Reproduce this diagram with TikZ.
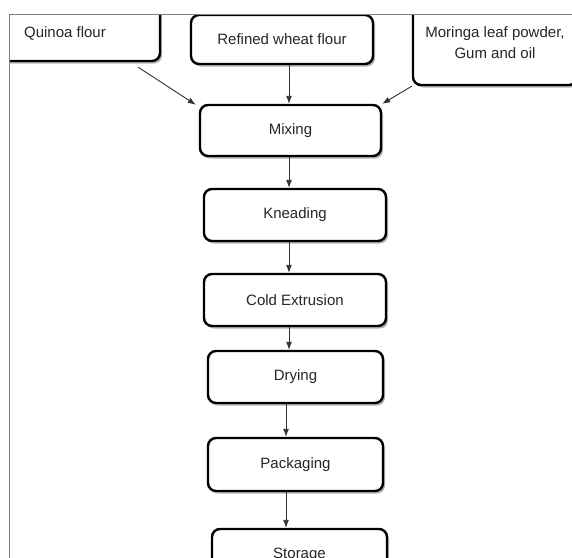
\documentclass[tikz,border=0pt]{standalone}
\usepackage{fontspec}
\setmainfont{Liberation Sans}
\usepackage{tikz}
\usetikzlibrary{arrows.meta,shadows}

\tikzset{
  stage/.style={draw=black, line width=2.4pt, rounded corners=8pt, fill=white,
    inner sep=0pt, text=black!85, font=\fontsize{15}{21}\selectfont,
    drop shadow={shadow xshift=2pt, shadow yshift=-2.5pt, opacity=0.3, fill=black}},
  flow/.style={draw=black!80, line width=0.9pt, -{Latex[length=8pt,width=6pt]}},
}

\begin{document}
\begin{tikzpicture}[x=1pt,y=-1pt]
    \useasboundingbox (0,0) rectangle (572,557);
    \fill[white] (0,0) rectangle (572,557);
  \begin{scope}
    \clip (9,14) rectangle (572,557);
    % Ingredients
    \node[stage, minimum width=190, minimum height=56] (quinoa) at (65,33) {\raisebox{-3pt}{Quinoa flour}};
    \node[stage, minimum width=182, minimum height=49] (wheat) at (282,39.5) {\raisebox{-2pt}{Refined wheat flour}};
    \node[stage, minimum width=164, minimum height=85, align=center] (moringa) at (495,42.5) {Moringa leaf powder,\\Gum and oil};
    % Process Steps
    \node[stage, minimum width=181, minimum height=51] (mixing) at (290.5,130.5) {Mixing};
    \node[stage, minimum width=182, minimum height=52] (kneading) at (295,215) {Kneading};
    \node[stage, minimum width=182, minimum height=52] (extrusion) at (295,300) {Cold Extrusion};
    \node[stage, minimum width=175, minimum height=52] (drying) at (295.5,377) {Drying};
    \node[stage, minimum width=175, minimum height=53] (packaging) at (295.5,464.5) {Packaging};
    \node[stage, minimum width=175, minimum height=52] (storage) at (299.5,555) {Storage};
    % Ingredient Arrows
    \draw[flow] ([xshift=-23pt,yshift=-5pt]quinoa.south east) -- ([xshift=-3pt,yshift=-1pt]mixing.north west);
    \draw[flow] ([xshift=7pt]wheat.south) -- ([xshift=-1.5pt]mixing.north);
    \draw[flow] (moringa.south west) -- (mixing.north east);
    % Step Arrows
    \draw[flow] ([xshift=-1.5pt]mixing.south) -- ([xshift=-6pt]kneading.north);
    \draw[flow] ([xshift=-6pt]kneading.south) -- ([xshift=-6pt]extrusion.north);
    \draw[flow] ([xshift=-6pt]extrusion.south) -- ([xshift=-6.5pt]drying.north);
    \draw[flow] ([xshift=-9.5pt]drying.south) -- ([xshift=-9.5pt]packaging.north);
    \draw[flow] ([xshift=-9.5pt]packaging.south) -- ([xshift=-13.5pt]storage.north);
  \end{scope}
    % Frame
    \draw[black!50, line width=1pt] (9,560) -- (9,14) -- (575,14);
\end{tikzpicture}
\end{document}
